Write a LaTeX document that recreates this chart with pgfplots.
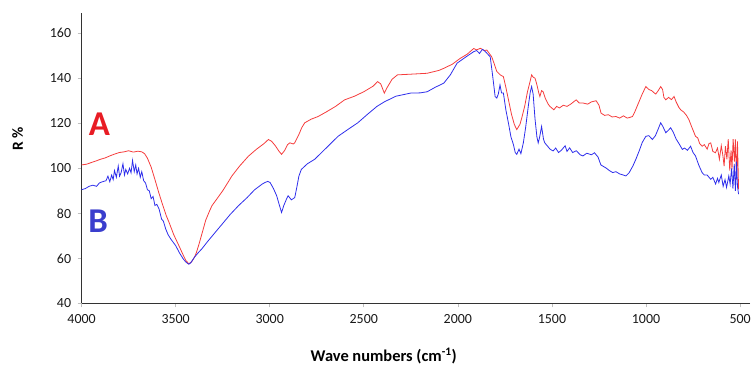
\documentclass[border=0pt]{standalone}
\usepackage{fontspec}
\setmainfont{Carlito}
\usepackage{pgfplots}
\pgfplotsset{compat=1.18}
\definecolor{specred}{RGB}{245,60,60}
\definecolor{specblue}{RGB}{45,45,235}
\definecolor{labred}{RGB}{232,28,36}
\definecolor{labblue}{RGB}{58,62,205}
\begin{document}
\begin{tikzpicture}
\begin{axis}[
  width=672pt, height=292pt, scale only axis,
  x dir=reverse, xmin=447, xmax=4000,
  ymin=40, ymax=169,
  xtick={500,1000,1500,2000,2500,3000,3500,4000},
  ytick={40,60,80,100,120,140,160},
  axis x line=bottom, axis y line=left,
  axis line style={-, black!80, line width=1.1pt},
  tick align=outside, major tick length=4pt,
  tick style={black!25, line width=0.6pt},
  /pgf/number format/assume math mode=true,
  /pgf/number format/1000 sep={},
  ticklabel style={font=\fontsize{14}{16}\selectfont, text=black!90},
  xticklabel style={yshift=-4pt},
  yticklabel style={xshift=-3pt},
  xlabel={\textbf{Wave numbers (cm\textsuperscript{-1})}},
  ylabel={\textbf{R \%}},
  xlabel style={at={(axis description cs:0.452,-0.181)}, anchor=center, font=\fontsize{16.5}{18}\selectfont},
  ylabel style={at={(axis description cs:-0.0955,0.565)}, anchor=center, font=\fontsize{15.5}{17}\selectfont},
  clip=false,
]
\addplot[specred, line width=0.8pt] coordinates {
(4000,101.5)(3975,101.8)(3950,102.5)(3925,103.2)(3900,104)(3875,104.6)(3850,105.5)(3825,106.3)(3800,107)(3775,107.3)(3750,107.8)(3725,107.2)(3700,107.6)(3680,107.3)(3665,106.5)(3650,104.5)(3630,100.5)(3610,95)(3590,89.3)(3570,84)(3550,79)(3535,76)(3510,70.5)(3483,65.7)(3460,61.5)(3445,59)(3430,57.6)(3415,58.5)(3400,60.5)(3390,62.5)(3377,66)(3360,71)(3340,77)(3320,81)(3307,83.4)(3280,86.5)(3250,90)(3220,94)(3201,96.6)(3160,101)(3113,105.4)(3070,108.5)(3030,111)(3007,112.8)(2990,112)(2970,110)(2950,107.5)(2937,106.2)(2920,108)(2905,110.5)(2893,111.3)(2875,110.8)(2867,111.3)(2845,115)(2830,118)(2814,120.2)(2780,121.8)(2743,123)(2700,125)(2650,127.5)(2602,130.4)(2550,132)(2500,134)(2450,136.5)(2427,138.5)(2410,137.5)(2391,133.4)(2375,136)(2350,139.5)(2321,141.5)(2250,141.8)(2163,142.2)(2100,143.5)(2075,144.4)(2030,146.2)(1988,148.8)(1950,150.7)(1916,153.2)(1900,152.6)(1880,153.3)(1860,152.3)(1846,152.5)(1820,149.5)(1805,146)(1793,143)(1775,141.5)(1758,140.7)(1745,136)(1731,130.4)(1715,124)(1700,119.5)(1687,117.2)(1670,119.5)(1660,122.5)(1645,127.5)(1630,134)(1615,139)(1608,141.5)(1600,140.5)(1590,140)(1582,137.8)(1570,133.5)(1564,131.9)(1555,134.5)(1547,134)(1535,131)(1520,128.5)(1511,127.5)(1490,126)(1475,127.5)(1460,126.8)(1440,128)(1420,127.5)(1400,128.5)(1385,129.5)(1371,130.4)(1355,129)(1335,129)(1310,128.5)(1290,129.5)(1265,130)(1250,128)(1239,124.5)(1220,123.5)(1200,123.8)(1180,122.8)(1160,123)(1140,122.3)(1120,123.3)(1100,122.3)(1090,122.5)(1072,123)(1060,125)(1040,129)(1020,133)(1001,136.3)(985,135)(970,134.5)(955,133.4)(948,133)(935,134.5)(922,136.3)(912,135)(905,131.5)(895,130.4)(880,131.5)(865,130.5)(851,131.9)(840,129.5)(825,127)(816,126)(800,125)(785,123.5)(772,121.6)(760,119)(748,116.5)(737,114.2)(725,113.5)(715,111)(702,109.8)(690,110.5)(675,108.5)(665,111)(656,111.3)(645,107.5)(631,106.9)(620,109)(610,104)(600,110)(592,106)(585,101)(578,109.8)(570,104)(563,113)(555,99)(548,108)(543,99.5)(537,113)(530,103)(525,112.8)(519,95)(514,112)(508,90.7)
};
\addplot[specblue, line width=0.8pt] coordinates {
(4000,90.5)(3980,91)(3960,92)(3940,92.5)(3920,92)(3905,93.5)(3890,94)(3870,94.5)(3860,96.5)(3850,94)(3840,97)(3832,95)(3825,99)(3815,96)(3805,101)(3798,96.5)(3790,98)(3780,102)(3772,97)(3765,99.5)(3755,97.5)(3745,100)(3737,98)(3729,103.5)(3720,98.5)(3712,101.5)(3705,97.5)(3697,100)(3688,96)(3680,98.5)(3670,94.5)(3660,93.5)(3650,90.5)(3640,90)(3630,86.5)(3620,87.5)(3610,83.5)(3600,84)(3588,81.9)(3575,77.5)(3565,76.5)(3553,73.1)(3540,70.5)(3525,68.5)(3500,65.7)(3480,62.5)(3460,59.8)(3445,58.3)(3430,57.4)(3420,58)(3400,60.5)(3380,62.5)(3360,64.3)(3330,67.5)(3289,71.6)(3250,75.5)(3210,79.5)(3166,83.4)(3120,87)(3080,90.5)(3040,93)(3025,93.7)(3010,94.2)(2998,93.7)(2980,91)(2963,87.8)(2950,84)(2937,80.4)(2925,83.5)(2910,86.5)(2902,87.8)(2885,86)(2867,87)(2855,92)(2845,96.5)(2832,99.5)(2800,102)(2761,104)(2700,109)(2637,114.2)(2580,117.5)(2532,120.2)(2480,124)(2430,127.5)(2391,129.5)(2330,132)(2251,133.4)(2200,133.5)(2163,134)(2120,136)(2075,137.8)(2040,141.5)(2004,146.7)(1960,149.3)(1916,151.8)(1900,152.3)(1885,151)(1870,152.8)(1863,152.5)(1850,151.5)(1828,149.5)(1815,141)(1802,131.9)(1793,131.2)(1785,133)(1776,137)(1768,133.5)(1758,133.4)(1745,126)(1731,120)(1718,114)(1705,110.6)(1695,107)(1687,106.2)(1675,108.5)(1665,106.5)(1652,111.3)(1640,118)(1625,128)(1615,134)(1608,136.3)(1600,133)(1590,122)(1580,114)(1573,111.3)(1565,114)(1555,118.6)(1545,113)(1538,111.3)(1525,110)(1510,108.5)(1494,107.7)(1480,109)(1465,107)(1450,108)(1430,110)(1420,107.5)(1406,109.1)(1390,107)(1370,107.8)(1350,106)(1335,105.5)(1315,106.7)(1290,106)(1274,106.9)(1255,105)(1240,101.5)(1230,101)(1210,100)(1195,99)(1177,98.1)(1160,98.5)(1140,97.5)(1120,97)(1107,96.6)(1090,98)(1070,101)(1054,104)(1035,108)(1020,111.5)(1001,114.2)(985,114.5)(966,112.8)(950,114.5)(935,117.5)(922,120.2)(910,118.5)(895,115.8)(880,117)(869,118)(855,116)(840,113)(825,111)(807,108.4)(795,109)(780,108)(763,109.8)(750,107)(737,105.5)(720,101.5)(702,98.1)(690,97)(675,97)(656,95.1)(645,96)(630,93)(620,95.5)(613,93.7)(600,97)(590,92)(580,95)(572,91.5)(560,96.6)(553,93)(545,100)(538,91)(531,102)(525,90)(519,103)(514,92)(508,88.5)
};
\node[text=labred, font=\fontsize{35}{37}\bfseries\selectfont] at (axis cs:3905,119.4) {A};
\node[text=labblue, font=\fontsize{35}{37}\bfseries\selectfont] at (axis cs:3912,76.6) {B};
\coordinate (bl) at (rel axis cs:0,0);
\coordinate (tr) at (rel axis cs:1,1);
\end{axis}
\path ([shift={(-82pt,-60pt)}]bl) rectangle ([shift={(0pt,13pt)}]tr);
\end{tikzpicture}
\end{document}
